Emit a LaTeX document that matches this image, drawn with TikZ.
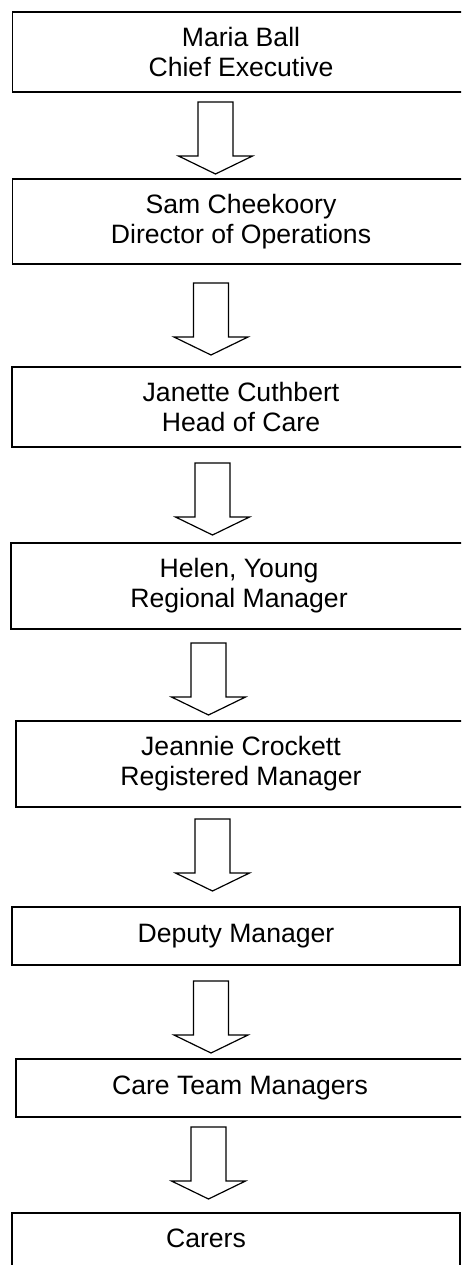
\documentclass[tikz,border=0pt]{standalone}
\usepackage{fontspec}
\setmainfont{Liberation Sans}
\begin{document}
\begin{tikzpicture}[x=1pt,y=-1pt,
  orgbox/.style={draw=black, line width=1.5pt, align=center, inner sep=0pt,
    font=\fontsize{26.6}{30}\selectfont},
  labeltext/.style={inner sep=0pt, font=\fontsize{26.6}{30}\selectfont},
  arrowline/.style={draw=black, line width=1.2pt, line join=miter, fill=white},
  blockarrow/.pic={\draw[arrowline] (-17.5,0) -- (17.5,0) -- (17.5,54) -- (37,54)
     -- (0,72) -- (-37,54) -- (-17.5,54) -- cycle;}
]
\useasboundingbox (0,0) rectangle (461,1265);
\clip (0,0) rectangle (461,1265);
\fill[white] (0,0) rectangle (461,1265);

\node[orgbox, minimum width=457pt, minimum height=80pt] (b1) at (241,52)
  {Maria Ball\\Chief Executive};
\node[orgbox, minimum width=457pt, minimum height=85pt] (b2) at (241,221.5)
  {Sam Cheekoory\\Director of Operations};
\node[orgbox, minimum width=458pt, minimum height=80pt] (b3) at (241,407)
  {Janette Cuthbert\\Head of Care};
\node[orgbox, minimum width=456pt, minimum height=86pt] (b4) at (239,586)
  {Helen, Young\\Regional Manager};
\node[orgbox, minimum width=450pt, minimum height=86pt] (b5) at (241,764)
  {Jeannie Crockett\\Registered Manager};
\node[orgbox, minimum width=448pt, minimum height=58pt] (b6) at (236,936)
  {Deputy Manager};
\node[orgbox, minimum width=448pt, minimum height=58pt] (b7) at (240,1088)
  {Care Team Managers};
\node[orgbox, minimum width=448pt, minimum height=87pt] (b8) at (236,1256.5) {};
\node[labeltext] (t8) at (206,1238) {Carers};

\pic at (215.5,102) {blockarrow};
\pic at (211,283) {blockarrow};
\pic at (212.5,463) {blockarrow};
\pic at (208.5,643) {blockarrow};
\pic at (212.5,819) {blockarrow};
\pic at (211,981) {blockarrow};
\pic at (208.5,1127) {blockarrow};
\end{tikzpicture}
\end{document}
